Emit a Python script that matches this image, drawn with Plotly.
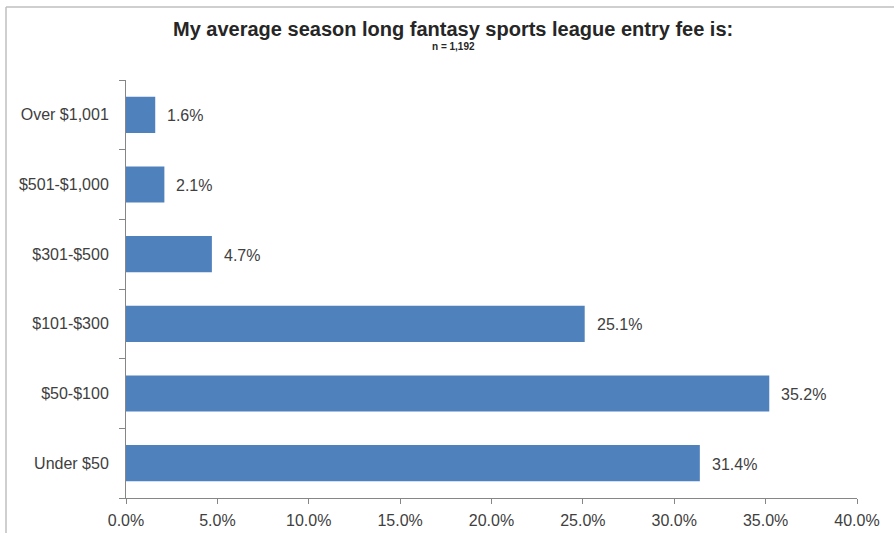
import plotly.graph_objects as go

# Survey answer categories (bottom to top) and share of respondents (%)
categories = ["Under $50", "$50-$100", "$101-$300", "$301-$500", "$501-$1,000", "Over $1,001"]
shares = [31.4, 35.2, 25.1, 4.7, 2.1, 1.6]
x_ticks = [0, 5, 10, 15, 20, 25, 30, 35, 40]
x_tick_labels = [f"{v:.1f}%" for v in x_ticks]

W, H = 894, 533
L, R, T, B = 126, 37, 80, 35
plot_w = W - L - R
plot_h = H - T - B

text_color = "#404040"
axis_color = "#868686"
font_family = "Liberation Sans, Arial, sans-serif"

fig = go.Figure(
    go.Bar(
        x=shares,
        y=categories,
        orientation="h",
        marker=dict(color="#4F81BD", line=dict(width=0)),
        width=0.52,
        hoverinfo="skip",
    )
)

# Value labels placed just right of each bar end
for cat, v in zip(categories, shares):
    fig.add_annotation(
        x=v, y=cat, xref="x", yref="y",
        text=f"{v:.1f}%", showarrow=False,
        xanchor="left", yanchor="middle", xshift=10, yshift=-1,
        font=dict(size=16, color=text_color, family=font_family),
    )

# Title and sample size
fig.add_annotation(
    x=(453 - L) / plot_w, y=1 + (T - 29) / plot_h, xref="paper", yref="paper",
    text="<b>My average season long fantasy sports league entry fee is:</b>",
    showarrow=False, xanchor="center", yanchor="middle",
    font=dict(size=20, color="#262626", family=font_family),
)
fig.add_annotation(
    x=(453 - L) / plot_w, y=1 + (T - 47) / plot_h, xref="paper", yref="paper",
    text="<b>n = 1,192</b>",
    showarrow=False, xanchor="center", yanchor="middle",
    font=dict(size=10, color="#262626", family=font_family),
)

# Outer chart frame (top and left edges visible)
fx = (6 - L) / plot_w
fy = 1 + (T - 7) / plot_h
fig.add_shape(type="line", xref="paper", yref="paper", x0=fx, x1=1 + (R + 10) / plot_w,
              y0=fy, y1=fy, line=dict(color="#BFBFBF", width=1.5))
fig.add_shape(type="line", xref="paper", yref="paper", x0=fx, x1=fx,
              y0=fy, y1=-(B + 10) / plot_h, line=dict(color="#BFBFBF", width=1.5))

fig.update_layout(
    width=W,
    height=H,
    margin=dict(l=L, r=R, t=T, b=B, autoexpand=False),
    paper_bgcolor="white",
    plot_bgcolor="white",
    showlegend=False,
    font=dict(family=font_family, color=text_color, size=16),
    xaxis=dict(
        range=[0, 40],
        tickvals=x_ticks,
        ticktext=x_tick_labels,
        showgrid=False,
        zeroline=False,
        showline=True,
        linecolor=axis_color,
        linewidth=1,
        ticks="outside",
        ticklen=5,
        tickcolor=axis_color,
        tickfont=dict(size=16, color=text_color),
        ticklabelstandoff=3,
        automargin=False,
        fixedrange=True,
    ),
    yaxis=dict(
        categoryorder="array",
        categoryarray=categories,
        showgrid=False,
        showline=True,
        linecolor=axis_color,
        linewidth=1,
        ticks="outside",
        tickson="boundaries",
        ticklen=6,
        tickcolor=axis_color,
        tickfont=dict(size=16, color=text_color),
        ticklabelstandoff=13,
        automargin=False,
        fixedrange=True,
    ),
)

fig.write_html("out.html", config={"displayModeBar": False})
